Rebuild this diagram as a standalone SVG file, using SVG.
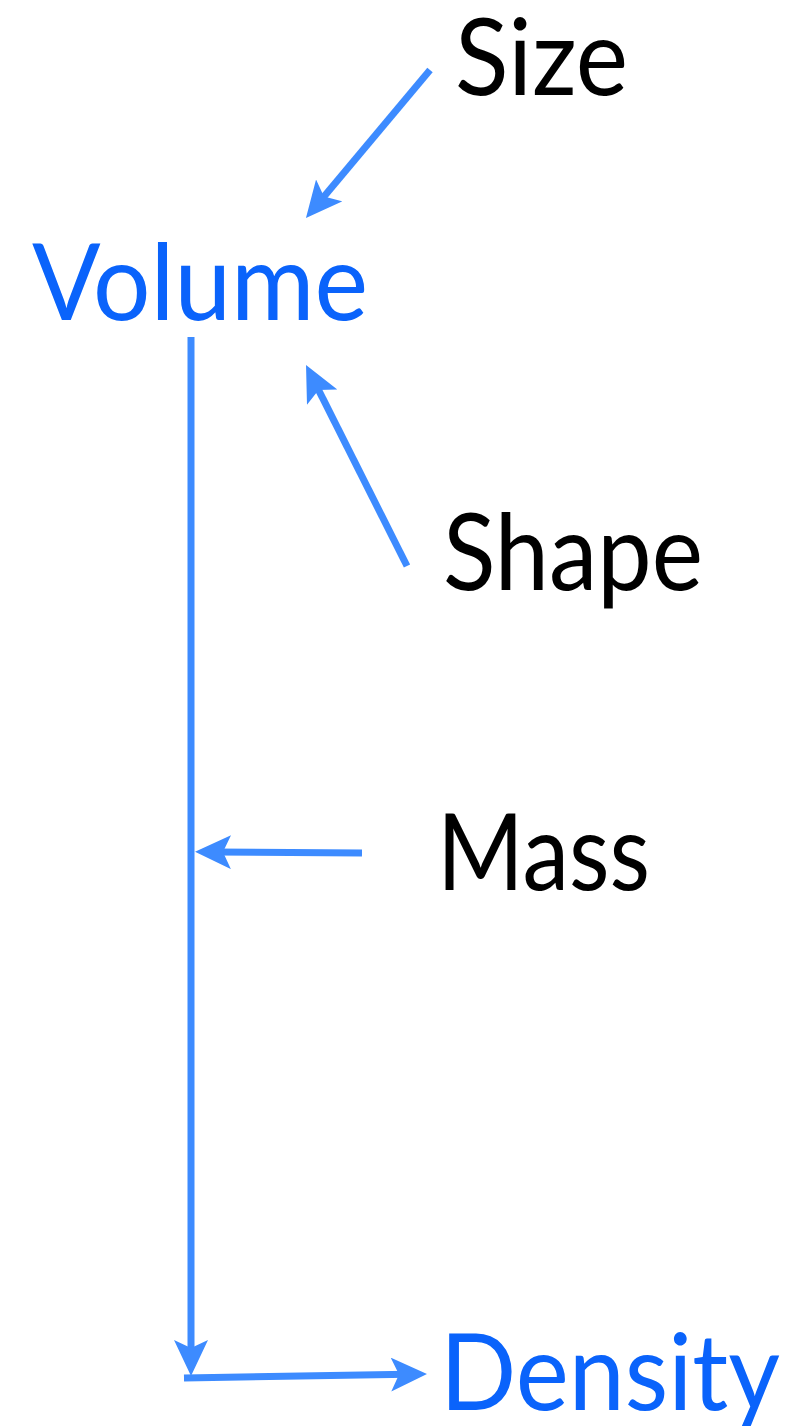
<svg xmlns="http://www.w3.org/2000/svg" width="792" height="1426" viewBox="0 0 792 1426">
<style>
.lbl{font-family:"Gill Sans","Lato","Liberation Sans",sans-serif;font-size:106px;}
.blk{fill:#000000;}
.blu{fill:#0a63fb;}
.con{stroke:#3d8bff;stroke-width:7;fill:none;marker-end:url(#ah);}
</style>
<defs>
<marker id="ah" markerUnits="userSpaceOnUse" viewBox="0 0 36 34" markerWidth="36" markerHeight="34" refX="16" refY="17" orient="auto">
<path d="M0,0 L36,17 L0,34 L8,17 Z" fill="#3d8bff"/>
</marker>
</defs>
<rect width="792" height="1426" fill="#ffffff"/>
<g id="connectors">
<line class="con" x1="430" y1="70" x2="318.8" y2="202.7"/>
<line class="con" x1="407" y1="566" x2="315" y2="382.9"/>
<line class="con" x1="362" y1="853" x2="215" y2="852"/>
<line class="con" x1="191" y1="337" x2="191" y2="1356"/>
<line class="con" x1="184" y1="1378" x2="407" y2="1374.3"/>
</g>
<g id="size"><text class="lbl blk" x="455" y="95" textLength="173" lengthAdjust="spacingAndGlyphs">Size</text></g>
<g id="volume"><text class="lbl blu" x="32" y="320" textLength="336" lengthAdjust="spacingAndGlyphs">Volume</text></g>
<g id="shape"><text class="lbl blk" x="443" y="590" textLength="260" lengthAdjust="spacingAndGlyphs">Shape</text></g>
<g id="mass"><text class="lbl blk" x="437" y="890" textLength="213" lengthAdjust="spacingAndGlyphs">Mass</text></g>
<g id="density"><text class="lbl blu" x="440" y="1410" textLength="340" lengthAdjust="spacingAndGlyphs">Density</text></g>
</svg>
